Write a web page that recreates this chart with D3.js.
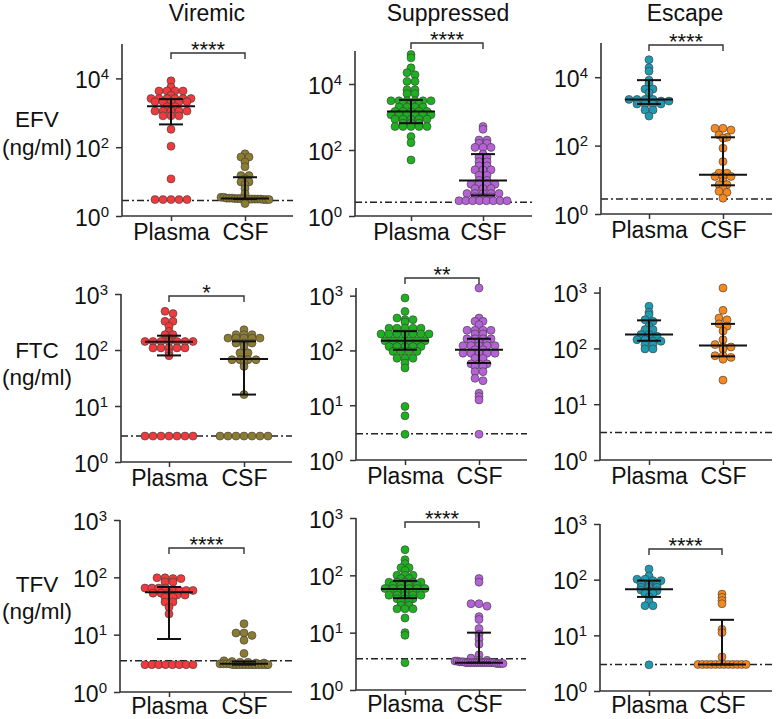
<!DOCTYPE html>
<html><head><meta charset="utf-8">
<script src="https://cdn.jsdelivr.net/npm/d3@7"></script>
<style>body{margin:0;background:#fff} svg{display:block} text{font-family:"Liberation Sans",Arial,Helvetica,sans-serif;fill:#111}</style>
</head><body><svg id="c" width="776" height="719"></svg>
<script>
// ---------- DATA ----------
const groups = ["Viremic", "Suppressed", "Escape"];
const drugs = ["EFV", "FTC", "TFV"];
const categories = ["Plasma", "CSF"];
const unitLabel = "(ng/ml)";

// EFV
const efvViremicPlasma = [8500, 5600, 4300, 4300, 4300, 4300, 3250, 2600, 2600, 2600, 2600, 2600, 2600, 2100, 2100, 2100, 2100, 2100, 1500, 1500, 1120, 1120, 1120, 1120, 1120, 815, 815, 815, 330, 107, 12, 3, 3, 3, 3, 3];
const efvViremicCSF = [64, 52, 52, 37, 27, 15, 15, 12, 9.8, 9.8, 8.2, 6.3, 4.5, 3.5, 3.5, 3.3, 3.3, 3.3, 3.2, 3.2, 3.2, 3.2, 3.1, 3.1, 3.1, 3.1, 3.1, 3.1, 3.0, 3.0, 3.0, 2.3];
const efvSuppressedPlasma = [78000, 62000, 31000, 22000, 19000, 12000, 12000, 6700, 6700, 5100, 5100, 3100, 3100, 3100, 3100, 3100, 3100, 2500, 2500, 2500, 2000, 2000, 2000, 2000, 1470, 1470, 1470, 1470, 1470, 1170, 1170, 1170, 1170, 1170, 1170, 860, 860, 860, 860, 860, 650, 650, 650, 515, 515, 515, 515, 515, 255, 167, 50];
const efvSuppressedCSF = [515, 425, 200, 200, 160, 160, 120, 120, 120, 75, 60, 60, 44, 44, 33, 33, 25, 25, 25, 17, 17, 12, 12, 9.2, 9.2, 9.2, 9.2, 6.8, 6.8, 6.8, 4.8, 4.8, 4.8, 4.8, 4.8, 3.8, 3.8, 3.8, 2.9, 2.9, 2.9, 2.9, 2.9, 2.9, 2.9, 2.9];
const efvEscapePlasma = [32500, 19000, 15000, 8200, 6600, 4500, 4500, 3500, 2240, 2240, 2240, 2240, 2000, 2000, 1650, 1650, 1650, 1650, 1100, 1100, 730];
const efvEscapeCSF = [320, 320, 285, 205, 175, 165, 84, 34, 15.6, 15.6, 12.5, 12.5, 12.5, 9, 7.2, 7.2, 5.7, 4.6, 4.3, 2.9];
// FTC
const ftcViremicPlasma = [490, 447, 325, 325, 265, 215, 188, 188, 163, 142, 142, 142, 142, 142, 142, 142, 109, 109, 109, 109, 109, 89, 79, 2.9, 2.9, 2.9, 2.9, 2.9, 2.9, 2.9];
const ftcViremicCSF = [230, 188, 188, 188, 163, 163, 163, 163, 163, 133, 133, 133, 117, 89, 89, 67, 67, 67, 67, 59, 51, 16, 2.9, 2.9, 2.9, 2.9, 2.9, 2.9, 2.9];
const ftcSuppressedPlasma = [910, 515, 390, 365, 365, 330, 255, 255, 255, 255, 255, 200, 200, 200, 200, 200, 200, 200, 150, 150, 150, 150, 150, 150, 118, 118, 118, 118, 118, 96, 96, 96, 96, 72, 72, 72, 59, 48, 9.5, 6.4, 2.95];
const ftcSuppressedCSF = [1380, 390, 340, 340, 295, 233, 233, 233, 233, 200, 200, 163, 163, 163, 163, 146, 146, 146, 122, 122, 122, 122, 122, 103, 103, 89, 89, 89, 89, 89, 72, 72, 57, 57, 57, 51, 51, 41, 41, 31, 28, 16.6, 14.4, 12.5, 2.95];
const ftcEscapePlasma = [570, 445, 400, 325, 305, 250, 217, 217, 177, 177, 165, 143, 143, 134, 134, 117, 117, 98, 98];
const ftcEscapeCSF = [1210, 480, 350, 325, 275, 250, 204, 143, 117, 106, 106, 98, 74, 74, 69, 64, 27];
// TFV
const tfvViremicPlasma = [98, 98, 95, 95, 83, 83, 65, 65, 65, 65, 59, 59, 59, 59, 53, 53, 53, 49, 49, 45, 45, 37, 37, 30, 23, 3, 3, 3, 3, 3, 3, 3, 3];
const tfvViremicCSF = [15.5, 10.7, 10.7, 9.7, 8, 4.7, 3.5, 3.4, 3.3, 3.3, 3.2, 3.2, 3.1, 3.1, 3.1, 3.1, 3, 3, 3, 3, 3, 3, 3, 3, 3, 3, 3, 3];
const tfvSuppressedPlasma = [280, 187, 160, 136, 136, 122, 100, 100, 100, 88, 88, 76, 76, 76, 76, 76, 67, 67, 67, 67, 59, 59, 59, 59, 59, 59, 51, 51, 51, 45, 45, 45, 45, 45, 39, 39, 39, 35, 35, 30, 30, 26, 26, 26, 18, 10, 9, 3];
const tfvSuppressedCSF = [88, 76, 32, 32, 29, 19, 17, 11.8, 9.4, 7.7, 6.3, 4.1, 3.6, 3.3, 3.3, 3.2, 3.2, 3.1, 3.1, 3.1, 3, 3, 3, 3, 3, 3, 3, 3, 3, 3, 3, 3, 3, 3, 2.9, 2.9, 2.9, 2.9];
const tfvEscapePlasma = [155, 117, 102, 102, 96, 96, 86, 80, 80, 73, 73, 73, 65, 63, 63, 57, 57, 49, 40, 34, 34, 2.95];
const tfvEscapeCSF = [55, 48, 42, 37, 12.8, 11.2, 4.1, 3, 3, 3, 3, 3, 3, 3, 3, 3, 3, 3, 3];

// rows = drugs, columns = groups
const plasmaSeries = [
  [efvViremicPlasma, efvSuppressedPlasma, efvEscapePlasma],
  [ftcViremicPlasma, ftcSuppressedPlasma, ftcEscapePlasma],
  [tfvViremicPlasma, tfvSuppressedPlasma, tfvEscapePlasma]];
const csfSeries = [
  [efvViremicCSF, efvSuppressedCSF, efvEscapeCSF],
  [ftcViremicCSF, ftcSuppressedCSF, ftcEscapeCSF],
  [tfvViremicCSF, tfvSuppressedCSF, tfvEscapeCSF]];

// medians and interquartile ranges as drawn
const medianPlasma = [[1550, 1470, 2240], [140, 150, 177], [55, 58, 67]];
const q1Plasma = [[460, 650, 1650], [80, 103, 137], [8.4, 40, 49]];
const q3Plasma = [[2500, 3300, 8200], [180, 225, 318], [68, 80, 96]];
const medianCSF = [[3.2, 12, 14], [69, 103, 113], [3.1, 3.0, 3.0]];
const q1CSF = [[3.1, 4.2, 6.9], [16, 59, 72], [3.0, 3.0, 3.0]];
const q3CSF = [[13.4, 75, 175], [143, 163, 275], [3.4, 10, 19]];

const lodValues = [[2.8, 2.6, 2.74], [2.9, 3.0, 3.1], [3.5, 3.5, 3.0]];
const significance = [["****", "****", "****"], ["*", "**", ""], ["****", "****", "****"]];

const yTickExponents = [[0, 2, 4], [0, 1, 2, 3], [0, 1, 2, 3]];
const yMaxExponent = [[5, 5, 5], [3, 3.14, 3.1], [3, 3, 3]];

// ---------- STYLE / LAYOUT ----------
const plasmaColors = ["#ef3b3d", "#1fb021", "#1f9ab0"];
const csfColors = ["#8c7c32", "#b462d6", "#f5891f"];

const panelX0 = [[122, 355, 601], [121, 356, 600], [120, 356, 600]];
const panelX1 = [[293, 532, 772], [292, 527, 772], [292, 526, 772]];
const catX = [[[171, 245], [411, 483], [649, 723]],
              [[169, 244], [405, 479], [649, 723]],
              [[169, 244], [405, 479], [649, 722]]];
const yBottomPx = [[216, 216, 214], [462, 460, 460], [692, 690, 691]];
const yTopPx = [[44, 51, 43], [294, 288, 287], [520, 518, 524]];
const bracketY = [[53, 43, 45], [296, 278, 0], [548, 522, 549]];
const xLabelPad = [3, 3, 1];
const titleX = [207, 448, 685];
const rowLabelY = [[127, 155], [358, 385], [592, 619]];

const svg = d3.select("#c");
const FONT = '"Liberation Sans",Arial,Helvetica,sans-serif';
const AX = "#333";

// column titles
svg.selectAll("text.title").data(groups).join("text")
  .attr("class", "title").attr("x", (d, i) => titleX[i]).attr("y", 21)
  .attr("text-anchor", "middle").style("font-size", "23px").text(d => d);

// row labels
drugs.forEach((d, r) => {
  svg.append("text").attr("x", 37).attr("y", rowLabelY[r][0]).attr("text-anchor", "middle")
    .style("font-size", "22.5px").text(d);
  svg.append("text").attr("x", 37).attr("y", rowLabelY[r][1]).attr("text-anchor", "middle")
    .style("font-size", "22.5px").text(unitLabel);
});

function swarm(values, y, cx, spacing = 8, maxSpan = 48, binH = 2.5) {
  const pts = values.map(v => ({ v, y: y(v) })).sort((a, b) => a.y - b.y);
  const rows = [];
  for (const p of pts) {
    const last = rows[rows.length - 1];
    if (last && p.y - last[0].y < binH) last.push(p); else rows.push([p]);
  }
  rows.forEach(row => {
    const n = row.length;
    const s = n > 1 ? Math.min(spacing, maxSpan / (n - 1)) : 0;
    row.forEach((p, i) => { p.x = cx + (i - (n - 1) / 2) * s; });
  });
  return pts;
}

for (let r = 0; r < 3; r++) {
  for (let c = 0; c < 3; c++) {
    const g = svg.append("g");
    const x0 = panelX0[r][c], x1 = panelX1[r][c];
    const yb = yBottomPx[r][c], yt = yTopPx[r][c];
    const y = d3.scaleLog().domain([1, Math.pow(10, yMaxExponent[r][c])]).range([yb, yt]);
    const x = d3.scalePoint().domain(categories).range(catX[r][c]);

    // LOD dash-dot line
    g.append("line").attr("x1", x0).attr("x2", x1)
      .attr("y1", y(lodValues[r][c])).attr("y2", y(lodValues[r][c]))
      .attr("stroke", "#222").attr("stroke-width", 1.5).attr("stroke-dasharray", "7,3,2,3");

    // axes
    const yAxis = d3.axisLeft(y).tickValues(yTickExponents[r].map(e => Math.pow(10, e)))
      .tickSize(6).tickFormat("");
    const ya = g.append("g").attr("transform", `translate(${x0},0)`).call(yAxis);
    ya.select(".domain").remove();
    ya.selectAll(".tick line").attr("stroke", AX).attr("stroke-width", 1.5);
    ya.selectAll(".tick").each(function (d) {
      const t = d3.select(this).append("text").attr("x", -13).attr("y", 9)
        .attr("text-anchor", "end").style("font-size", "23px").attr("fill", "#111");
      t.append("tspan").text("10");
      t.append("tspan").attr("dy", -9).style("font-size", "15px").text(Math.round(Math.log10(d)));
    });
    g.append("line").attr("x1", x0).attr("x2", x0).attr("y1", yb).attr("y2", yt)
      .attr("stroke", AX).attr("stroke-width", 1.6);

    const xAxis = d3.axisBottom(x).tickSize(5).tickPadding(xLabelPad[r]);
    const xa = g.append("g").attr("transform", `translate(0,${yb})`).call(xAxis);
    xa.select(".domain").remove();
    xa.selectAll(".tick line").attr("stroke", AX).attr("stroke-width", 1.5);
    xa.selectAll(".tick text").style("font-size", "23px").attr("fill", "#111").style("font-family", FONT);
    g.append("line").attr("x1", x0).attr("x2", x1).attr("y1", yb).attr("y2", yb)
      .attr("stroke", AX).attr("stroke-width", 1.6);

    // dots
    const sets = [
      { vals: plasmaSeries[r][c], cat: "Plasma", color: plasmaColors[c], med: medianPlasma[r][c], q1: q1Plasma[r][c], q3: q3Plasma[r][c] },
      { vals: csfSeries[r][c], cat: "CSF", color: csfColors[c], med: medianCSF[r][c], q1: q1CSF[r][c], q3: q3CSF[r][c] }];
    sets.forEach(s => {
      const pts = swarm(s.vals, y, x(s.cat));
      g.append("g").selectAll("circle").data(pts).join("circle")
        .attr("cx", d => d.x).attr("cy", d => d.y).attr("r", 4)
        .attr("fill", s.color).attr("stroke", "#3a3a3a").attr("stroke-width", 0.6);
    });
    // median + IQR
    sets.forEach(s => {
      const cx = x(s.cat);
      const lg = g.append("g").attr("stroke", "#111").attr("stroke-width", 2);
      lg.append("line").attr("x1", cx).attr("x2", cx).attr("y1", y(s.q1)).attr("y2", y(s.q3));
      lg.append("line").attr("x1", cx - 24).attr("x2", cx + 24).attr("y1", y(s.med)).attr("y2", y(s.med));
      lg.append("line").attr("x1", cx - 12).attr("x2", cx + 12).attr("y1", y(s.q1)).attr("y2", y(s.q1));
      lg.append("line").attr("x1", cx - 12).attr("x2", cx + 12).attr("y1", y(s.q3)).attr("y2", y(s.q3));
    });

    // significance bracket
    const sig = significance[r][c];
    if (sig) {
      const by = bracketY[r][c];
      const xa1 = x("Plasma"), xa2 = x("CSF");
      g.append("path").attr("d", `M${xa1},${by + 6}V${by}H${xa2}V${by + 6}`)
        .attr("fill", "none").attr("stroke", AX).attr("stroke-width", 1.4);
      g.append("text").attr("x", (xa1 + xa2) / 2).attr("y", by + 4).attr("text-anchor", "middle")
        .style("font-size", "22px").text(sig);
    }
  }
}
</script>
</body></html>
